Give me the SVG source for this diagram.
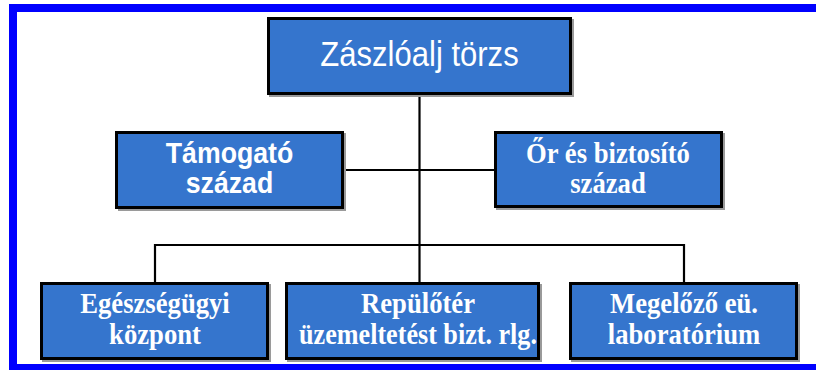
<svg xmlns="http://www.w3.org/2000/svg" width="816" height="370" viewBox="0 0 816 370">
<style>
.box{fill:#3575cd;stroke:#000;stroke-width:3}
.sh{fill:#9a9a9a}
.ln{stroke:#000;stroke-width:2.2;fill:none}
.t{fill:#fff;text-anchor:middle}
.sans{font-family:"Liberation Sans",Arial,sans-serif}
.serif{font-family:"Liberation Serif","Times New Roman",serif;font-weight:bold;font-size:26.67px}
</style>
<rect x="0" y="0" width="816" height="370" fill="#fff"/>
<rect x="13" y="8" width="820" height="360" fill="none" stroke="#0000ff" stroke-width="8"/>
<g id="connectors">
<line class="ln" x1="419.5" y1="95" x2="419.5" y2="245"/>
<line class="ln" x1="344" y1="170" x2="494" y2="170"/>
<polyline class="ln" points="155,282 155,245 684,245 684,282"/>
<line class="ln" x1="419.5" y1="245" x2="419.5" y2="282"/>
</g>
<g id="n-torzs">
<rect class="sh" x="269" y="19" width="305" height="78"/>
<rect class="box" x="268.5" y="18.5" width="302" height="75"/>
<text class="t sans" transform="translate(419.5,66) scale(0.97,1.12)" font-size="32">Zászlóalj törzs</text>
</g>
<g id="n-tamogato">
<rect class="sh" x="118" y="133" width="228" height="78"/>
<rect class="box" x="116.5" y="132.5" width="226" height="75"/>
<text class="t sans" transform="translate(229.5,163) scale(1,1.1)" font-size="26.67" font-weight="bold">Támogató</text>
<text class="t sans" transform="translate(229.5,193) scale(1,1.1)" font-size="26.67" font-weight="bold">század</text>
</g>
<g id="n-or">
<rect class="sh" x="496" y="133" width="229" height="77"/>
<rect class="box" x="495.5" y="132.5" width="226" height="74"/>
<text class="t serif" transform="translate(608,163) scale(1,1.12)">Őr és biztosító</text>
<text class="t serif" transform="translate(608,193) scale(1,1.12)">század</text>
</g>
<g id="n-egeszseg">
<rect class="sh" x="42" y="284" width="229" height="78"/>
<rect class="box" x="41.5" y="283.5" width="226" height="75"/>
<text class="t serif" transform="translate(155,313) scale(1,1.12)">Egészségügyi</text>
<text class="t serif" transform="translate(155,344) scale(1,1.12)">központ</text>
</g>
<g id="n-repuloter">
<rect class="sh" x="287" y="284" width="255" height="78"/>
<rect class="box" x="286.5" y="283.5" width="252" height="75"/>
<text class="t serif" transform="translate(418,313) scale(1,1.12)">Repülőtér</text>
<text class="t serif" transform="translate(418,344) scale(0.98,1.12)">üzemeltetést bizt. rlg.</text>
</g>
<g id="n-labor">
<rect class="sh" x="571" y="284" width="229" height="78"/>
<rect class="box" x="570.5" y="283.5" width="226" height="75"/>
<text class="t serif" transform="translate(684,313) scale(1,1.12)">Megelőző eü.</text>
<text class="t serif" transform="translate(684,344) scale(1,1.12)">laboratórium</text>
</g>
</svg>
